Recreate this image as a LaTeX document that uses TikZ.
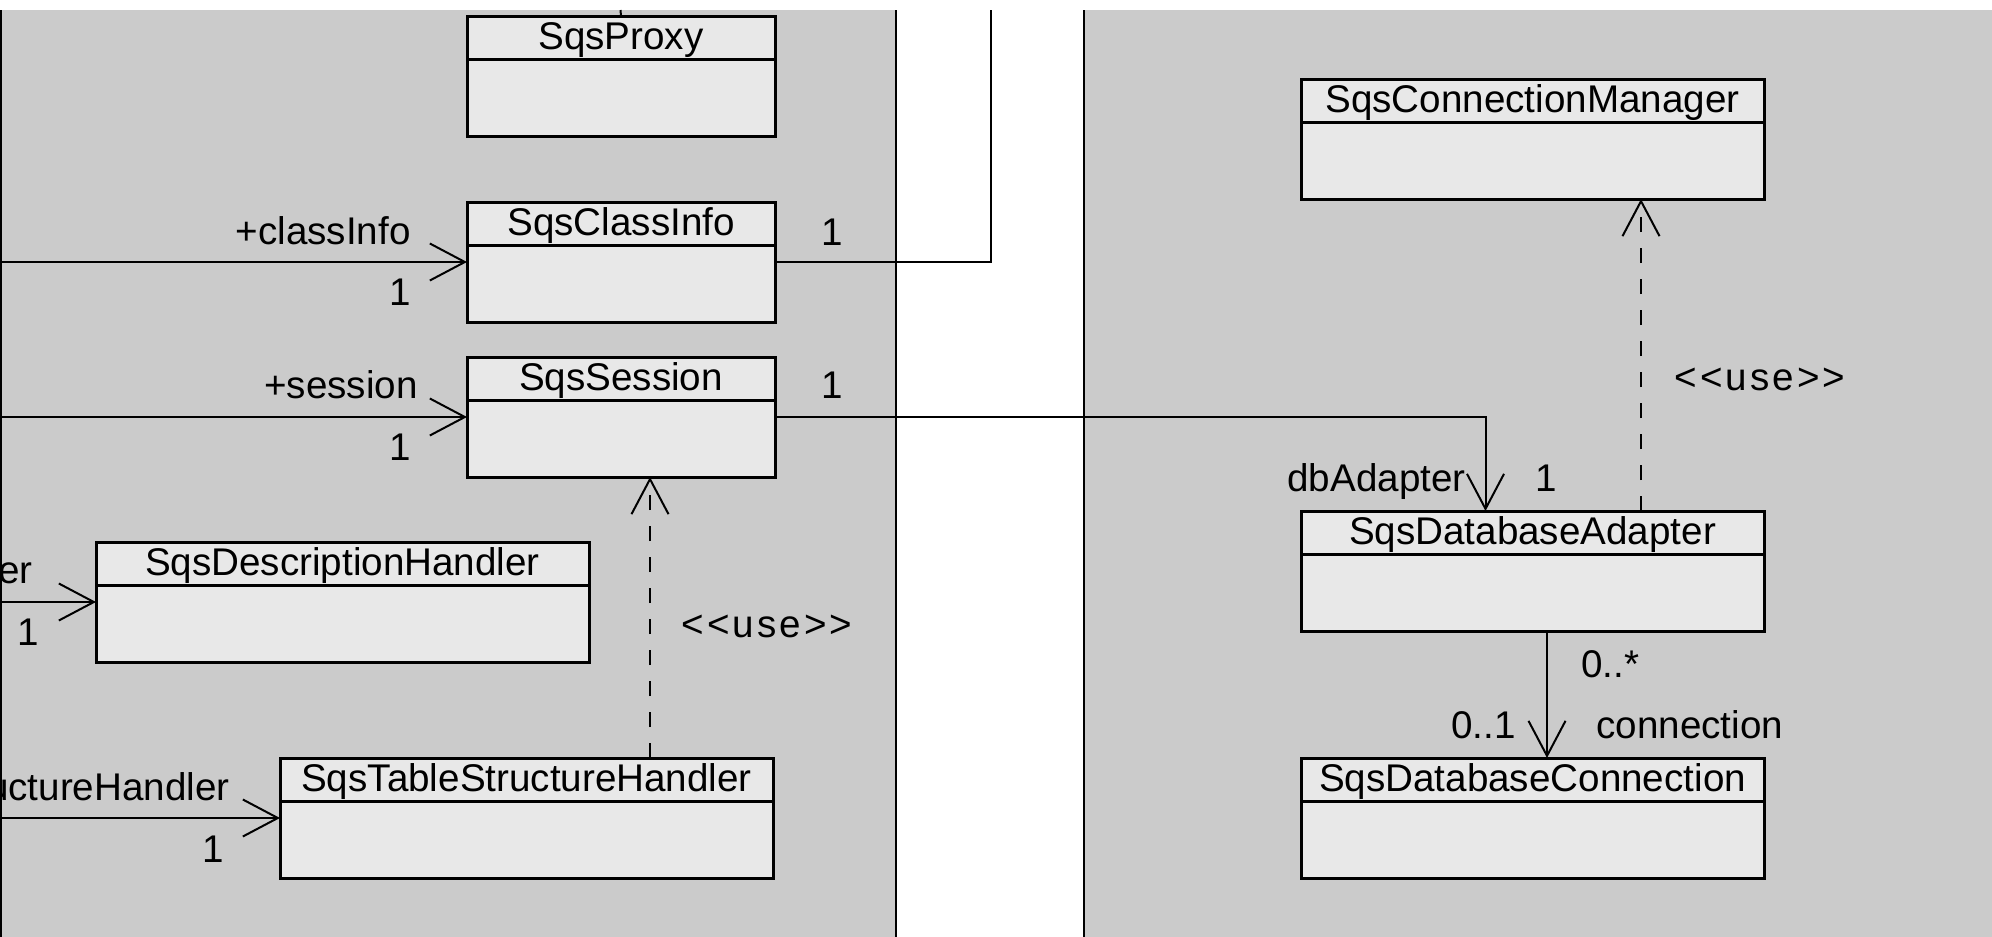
\documentclass[tikz,border=0pt]{standalone}
\usepackage{fontspec}
\setmainfont{Liberation Sans}
\newfontfamily\stereofont[LetterSpace=8]{Liberation Sans}
\usepackage{xcolor}
\usepackage{tikz}
\usetikzlibrary{arrows.meta}
\definecolor{panelgray}{RGB}{203,203,203}
\definecolor{boxgray}{RGB}{232,232,232}

\begin{document}
\begin{tikzpicture}[x=0.5pt,y=-0.5pt,
                    >={Straight Barb[length=17.5pt,width=18.5pt]},
                    font=\fontsize{19.3}{23}\selectfont,
                    class node/.style={draw,fill=boxgray,line width=1.5pt,anchor=north west,inner sep=0pt,outer sep=0pt,minimum height=60pt,
                       path picture={\draw[line width=1.5pt] ([yshift=-21.5pt]path picture bounding box.north west) -- ([yshift=-21.5pt]path picture bounding box.north east);}},
                    name node/.style={anchor=base,inner sep=0pt},
                    label node/.style={inner sep=0pt},
                    assoc/.style={->,line width=1pt},
                    use dep/.style={->,line width=1pt,dash pattern=on 7.5pt off 8pt}]
\useasboundingbox (0,0) rectangle (1992,937);

%Panels
 \fill[panelgray] (0,10) rectangle (896,937);
 \fill[panelgray] (1084,10) rectangle (1992,937);
 \draw[line width=0.8pt] (1,10) -- (1,937);
 \draw[line width=1.2pt] (896,10) -- (896,937);
 \draw[line width=1.2pt] (1084,10) -- (1084,937);

%Classes
 \node[class node,minimum width=154pt] (proxy) at (467,16) {};
 \node[class node,minimum width=154pt] (classinfo) at (467,202) {};
 \node[class node,minimum width=154pt] (session) at (467,357) {};
 \node[class node,minimum width=246.5pt] (deschandler) at (96,542) {};
 \node[class node,minimum width=246.5pt] (tablehandler) at (280,758) {};
 \node[class node,minimum width=231.5pt] (connmanager) at (1301,79) {};
 \node[class node,minimum width=231.5pt] (dbadapter) at (1301,511) {};
 \node[class node,minimum width=231.5pt] (dbconnection) at (1301,758) {};

   %Class names
    \node[name node] (proxyname) at ([yshift=-16.5pt]proxy.north) {SqsProxy};
    \node[name node] (classinfoname) at ([yshift=-16.5pt]classinfo.north) {SqsClassInfo};
    \node[name node] (sessionname) at ([yshift=-16.5pt]session.north) {SqsSession};
    \node[name node] (deschandlername) at ([yshift=-16.5pt]deschandler.north) {SqsDescriptionHandler};
    \node[name node] (tablehandlername) at ([yshift=-16.5pt]tablehandler.north) {SqsTableStructureHandler};
    \node[name node] (connmanagername) at ([yshift=-16.5pt]connmanager.north) {SqsConnectionManager};
    \node[name node] (dbadaptername) at ([yshift=-16.5pt]dbadapter.north) {SqsDatabaseAdapter};
    \node[name node] (dbconnectionname) at ([yshift=-16.5pt]dbconnection.north) {SqsDatabaseConnection};

%Associations coming in from the left
 \coordinate (leftedge) at (0,0);
 \draw[assoc] (classinfo.west -| leftedge) -- (classinfo.west);
 \draw[assoc] (session.west -| leftedge) -- (session.west);
 \draw[assoc] (deschandler.west -| leftedge) -- (deschandler.west);
 \draw[assoc] (tablehandler.west -| leftedge) -- (tablehandler.west);

%Lines running off the top
 \coordinate (classinfotop) at (991,10);
 \coordinate (proxytop) at (620.5,10);
 \draw[line width=1pt] (classinfo.east) -| (classinfotop);
 \draw[line width=1pt] (proxy.north) -- (proxytop);

%Session to adapter
 \draw[assoc] (session.east) -| ([xshift=-23.5pt]dbadapter.north);

%Dependencies
 \coordinate (usex) at (650,0);
 \coordinate (usexx) at (1641,0);
 \coordinate (connx) at (1547,0);
 \draw[use dep] (tablehandler.north -| usex) -- (session.south -| usex);
 \draw[use dep] (dbadapter.north -| usexx) -- (connmanager.south -| usexx);
 \draw[assoc] (dbadapter.south -| connx) -- (dbconnection.north -| connx);

%Roles and multiplicities
    \node[label node,anchor=base east] (classinforole) at (411,244) {+classInfo};
    \node[label node,anchor=base] (classinfomult) at (400,305) {1};
    \node[label node,anchor=base] (classinfomultb) at (832,245) {1};
    \node[label node,anchor=base east] (sessionrole) at (418,398) {+session};
    \node[label node,anchor=base] (sessionmult) at (400,460) {1};
    \node[label node,anchor=base] (sessionmultb) at (832,398) {1};
    \node[label node,anchor=base east] (descrole) at (33,583) {er};
    \node[label node,anchor=base] (descmult) at (28,645) {1};
    \node[label node,anchor=base east] (tablerole) at (230,800) {uctureHandler};
    \node[label node,anchor=base] (tablemult) at (213,862) {1};
    \node[label node,anchor=base west] (usea) at (681,637) {\stereofont <<use>>};
    \node[label node,anchor=base west] (useb) at (1674,390) {\stereofont <<use>>};
    \node[label node,anchor=base east] (adapterrole) at (1466,491) {dbAdapter};
    \node[label node,anchor=base] (adaptermult) at (1546,491) {1};
    \node[label node,anchor=base west] (connmulta) at (1581,677) {0..*};
    \node[label node,anchor=base east] (connmultb) at (1516,738) {0..1};
    \node[label node,anchor=base west] (connrole) at (1596,738) {connection};
\end{tikzpicture}
\end{document}
